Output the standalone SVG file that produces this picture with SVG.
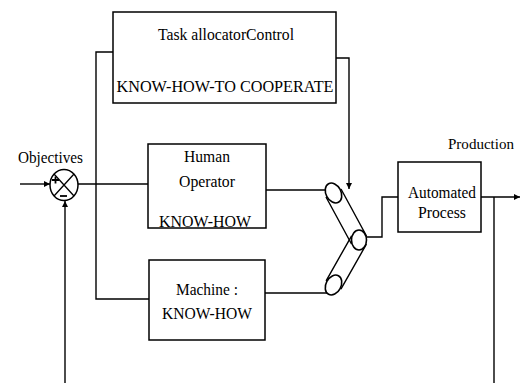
<svg xmlns="http://www.w3.org/2000/svg" width="521" height="383" viewBox="0 0 521 383">
  <style>
    .box { fill: #fff; stroke: #000; stroke-width: 1.5; }
    .wire { fill: none; stroke: #000; stroke-width: 1.4; }
    .lbl { font-family: "Liberation Serif", "Times New Roman", serif; font-size: 17px; fill: #000; }
    .mid { text-anchor: middle; }
    .pulley { fill: #fff; stroke: #000; stroke-width: 1.6; }
  </style>
  <defs>
    <marker id="arrow" viewBox="0 0 10 10" refX="10" refY="5" markerWidth="6" markerHeight="6" markerUnits="userSpaceOnUse" orient="auto">
      <path d="M0,0 L10,5 L0,10 z" fill="#000"/>
    </marker>
  </defs>

  <rect width="521" height="383" fill="#fff"/>

  <!-- connectors -->
  <g id="connectors" class="wire">
    <path d="M20,184 H50" marker-end="url(#arrow)"/>
    <path d="M65,383 V201" marker-end="url(#arrow)"/>
    <path d="M78,184 H148"/>
    <path d="M113,52 H96 V299 H149"/>
    <path d="M336,58 H349 V189" marker-end="url(#arrow)"/>
    <path d="M266,190 H326"/>
    <path d="M265,293 H328"/>
    <path d="M366,237 H382 V197 H398"/>
    <path d="M481,197 H520" marker-end="url(#arrow)"/>
    <path d="M494,197 V383"/>
  </g>

  <!-- summing junction -->
  <g id="sum">
    <ellipse cx="64" cy="185" rx="14" ry="15.5" fill="#fff" stroke="#000" stroke-width="1.5"/>
    <path d="M54,174 L74,196 M74,174 L54,196" stroke="#000" stroke-width="1.3"/>
    <path d="M52,180 h7 M55.5,176.5 v7" stroke="#000" stroke-width="1.8"/>
    <path d="M60,196 h7" stroke="#000" stroke-width="1.8"/>
    <text class="lbl" x="18" y="163" textLength="65" lengthAdjust="spacingAndGlyphs">Objectives</text>
  </g>

  <!-- task allocator -->
  <g id="allocator">
    <rect class="box" x="113" y="12" width="223" height="91"/>
    <text class="lbl mid" x="226" y="40" textLength="136" lengthAdjust="spacingAndGlyphs">Task allocatorControl</text>
    <text class="lbl mid" x="225" y="92" textLength="217" lengthAdjust="spacingAndGlyphs">KNOW-HOW-TO COOPERATE</text>
  </g>

  <!-- human operator -->
  <g id="human">
    <rect class="box" x="148" y="144" width="118" height="84"/>
    <text class="lbl mid" x="207" y="162" textLength="46" lengthAdjust="spacingAndGlyphs">Human</text>
    <text class="lbl mid" x="207" y="187" textLength="56" lengthAdjust="spacingAndGlyphs">Operator</text>
    <text class="lbl mid" x="205" y="227" textLength="92" lengthAdjust="spacingAndGlyphs">KNOW-HOW</text>
  </g>

  <!-- machine -->
  <g id="machine">
    <rect class="box" x="149" y="260" width="116" height="80"/>
    <text class="lbl mid" x="207" y="295" textLength="62" lengthAdjust="spacingAndGlyphs">Machine :</text>
    <text class="lbl mid" x="207" y="319" textLength="90" lengthAdjust="spacingAndGlyphs">KNOW-HOW</text>
  </g>

  <!-- switch: two belts over three pulleys -->
  <g id="switch">
    <path class="wire" d="M341,189 L366.5,236 M326,197 L351.5,244"/>
    <path class="wire" d="M366.4,244.2 L340.9,289.2 M351.6,235.8 L326.1,280.8"/>
    <ellipse class="pulley" cx="333.5" cy="193" rx="7.5" ry="10.5" transform="rotate(-28 333.5 193)"/>
    <ellipse class="pulley" cx="333.5" cy="285" rx="7.5" ry="10.5" transform="rotate(28 333.5 285)"/>
    <ellipse class="pulley" cx="359" cy="240" rx="7.5" ry="10" stroke-width="2.4"/>
  </g>

  <!-- automated process -->
  <g id="process">
    <rect class="box" x="398" y="162" width="83" height="70"/>
    <text class="lbl mid" x="442" y="198" textLength="68" lengthAdjust="spacingAndGlyphs">Automated</text>
    <text class="lbl mid" x="442" y="218" textLength="48" lengthAdjust="spacingAndGlyphs">Process</text>
    <text class="lbl" x="448" y="149" font-size="15.5" style="font-size:15.5px" textLength="66" lengthAdjust="spacingAndGlyphs">Production</text>
  </g>
</svg>
